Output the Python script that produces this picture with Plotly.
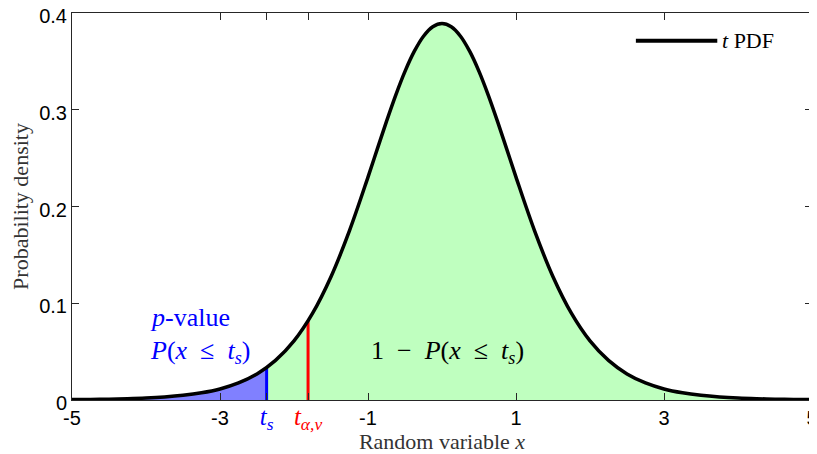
import plotly.graph_objects as go

#
# Values
#

# Student t density curve (x grid and density)
x_grid = [-5.0, -4.75, -4.5, -4.25, -4.0, -3.75, -3.5, -3.25, -3.0, -2.75, -2.5, -2.25, -2.0,
          -1.75, -1.5, -1.25, -1.0, -0.875, -0.75, -0.625, -0.5, -0.375, -0.25, -0.125, 0.0,
          0.125, 0.25, 0.375, 0.5, 0.625, 0.75, 0.875, 1.0, 1.25,
          1.5, 1.75, 2.0, 2.25, 2.5, 2.75, 3.0, 3.25, 3.5, 3.75, 4.0, 4.25, 4.5, 4.75, 5.0]
density = [0.0004, 0.0006, 0.0009, 0.0013, 0.0020, 0.0031, 0.0048, 0.0074, 0.0114, 0.0176,
           0.0269, 0.0409, 0.0611, 0.0895, 0.1274, 0.1751, 0.2304, 0.2593, 0.2880, 0.3152,
           0.3397, 0.3603, 0.3760, 0.3858, 0.3891,
           0.3858, 0.3760, 0.3603, 0.3397, 0.3152, 0.2880, 0.2593, 0.2304, 0.1751,
           0.1274, 0.0895, 0.0611, 0.0409, 0.0269, 0.0176, 0.0114, 0.0074, 0.0048, 0.0031,
           0.0020, 0.0013, 0.0009, 0.0006, 0.0004]

# test statistic and critical value
t_s = -2.37
t_s_density = 0.0335
t_crit = -1.81
t_crit_density = 0.0816

# axis ticks
x_tickvals = [-5, -3, t_s, t_crit, -1, 1, 3, 5]
x_ticktext = ["-5", "-3",
              "<span style='color:blue;font-family:Liberation Serif;font-size:25px'><i>t<sub>s</sub></i></span>",
              "<span style='color:red;font-family:Liberation Serif;font-size:25px'><i>t<sub>α,v</sub></i></span>",
              "-1", "1", "3", "5"]
y_tickvals = [0, 0.1, 0.2, 0.3, 0.4]
y_ticktext = ["0", "0.1", "0.2", "0.3", "0.4"]

SERIF = "Liberation Serif"
SANS = "Liberation Sans"
AXIS_COLOR = "#262626"
SP = "\u2002"  # wider space, closer to math spacing around relations


#
# Build the figure
#

fig = go.Figure()

# p-value region (left of t_s)
left_x = [x for x in x_grid if x < t_s] + [t_s]
left_y = [y for x, y in zip(x_grid, density) if x < t_s] + [t_s_density]
fig.add_trace(go.Scatter(
    x=left_x, y=left_y, mode='lines', line=dict(width=0, shape='spline'),
    fill='tozeroy', fillcolor='rgb(128, 128, 255)', showlegend=False, hoverinfo='skip',
))

# 1 - p region (right of t_s)
right_x = [t_s] + [x for x in x_grid if x > t_s]
right_y = [t_s_density] + [y for x, y in zip(x_grid, density) if x > t_s]
fig.add_trace(go.Scatter(
    x=right_x, y=right_y, mode='lines', line=dict(width=0, shape='spline'),
    fill='tozeroy', fillcolor='rgb(191, 255, 191)', showlegend=False, hoverinfo='skip',
))

# vertical markers
fig.add_trace(go.Scatter(
    x=[t_s, t_s], y=[0, t_s_density], mode='lines',
    line=dict(color='rgb(0, 0, 255)', width=3), showlegend=False, hoverinfo='skip',
))
fig.add_trace(go.Scatter(
    x=[t_crit, t_crit], y=[0, t_crit_density], mode='lines',
    line=dict(color='rgb(255, 0, 0)', width=3), showlegend=False, hoverinfo='skip',
))

# the density curve itself
fig.add_trace(go.Scatter(
    x=x_grid, y=density, mode='lines', line=dict(color='black', width=3.5, shape='spline'),
    name="t PDF", showlegend=False,
))

# legend drawn by hand so the sample line is as long as in the original
fig.add_shape(type='line', xref='paper', yref='paper', x0=0.762, x1=0.872, y0=0.928, y1=0.928,
              line=dict(color='black', width=4))
fig.add_annotation(xref='paper', yref='paper', x=0.876, y=0.928, xanchor='left', yanchor='middle',
                   showarrow=False, text="<i>t</i> PDF", font=dict(family=SERIF, size=22, color='black'))

# text labels
fig.add_annotation(x=-3.97, y=0.085, xanchor='left', yanchor='middle', showarrow=False,
                   text="<i>p</i>-value", font=dict(family=SERIF, size=26, color='blue'))
fig.add_annotation(x=-3.97, y=0.0496, xanchor='left', yanchor='middle', showarrow=False,
                   text="<i>P</i>(<i>x</i>" + SP + "≤" + SP + "<i>t<sub>s</sub></i>)",
                   font=dict(family=SERIF, size=26, color='blue'))
fig.add_annotation(x=-0.98, y=0.0496, xanchor='left', yanchor='middle', showarrow=False,
                   text="1" + SP + "−" + SP + "<i>P</i>(<i>x</i>" + SP + "≤" + SP + "<i>t<sub>s</sub></i>)",
                   font=dict(family=SERIF, size=26, color='black'))

fig.update_xaxes(
    range=[-5, 5], tickvals=x_tickvals, ticktext=x_ticktext,
    ticks='inside', ticklen=7, tickcolor=AXIS_COLOR, mirror='ticks',
    showline=True, linecolor=AXIS_COLOR, linewidth=1, showgrid=False, zeroline=False,
    tickfont=dict(family=SANS, size=20, color='black'), automargin=False, ticklabeloverflow='allow',
    title=dict(text="Random variable <i>x</i>", font=dict(family=SERIF, size=22, color='#333333'), standoff=2),
)
fig.update_yaxes(
    range=[0, 0.4], tickvals=y_tickvals, ticktext=y_ticktext,
    ticks='inside', ticklen=7, tickcolor=AXIS_COLOR, mirror='ticks',
    showline=True, linecolor=AXIS_COLOR, linewidth=1, showgrid=False, zeroline=False,
    tickfont=dict(family=SANS, size=20, color='black'), automargin=False, ticklabeloverflow='allow',
    ticklabelshift=3,
    title=dict(text="Probability density", font=dict(family=SERIF, size=22, color='#333333'), standoff=4),
)

# the page keeps the browser's 8px body margin, so the figure is sized to fit beside it
fig.update_layout(
    width=809, height=446,
    margin=dict(l=64, r=5, t=5, b=54),
    plot_bgcolor='white', paper_bgcolor='white',
    showlegend=False,
)

fig.write_html("out.html")
